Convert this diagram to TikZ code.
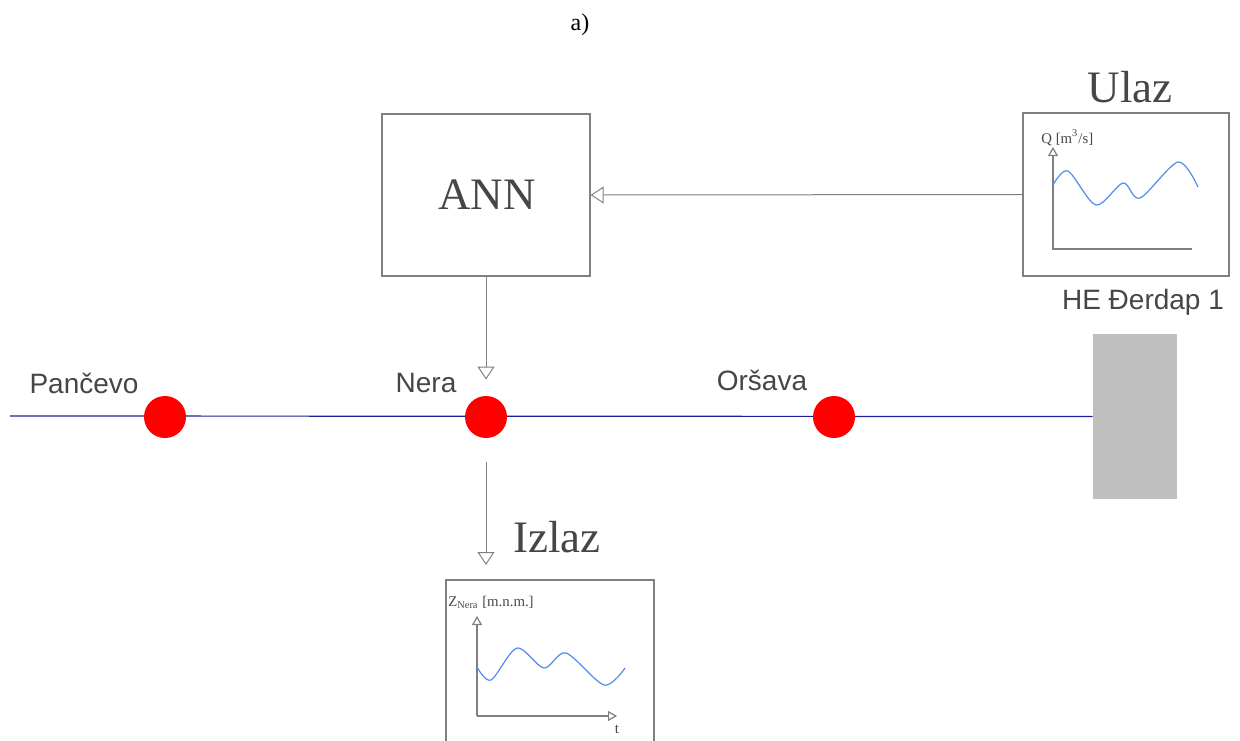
\documentclass[tikz,border=0pt]{standalone}
\usepackage{fontspec}
\setmainfont{Liberation Serif}
\setsansfont{Liberation Sans}
\usetikzlibrary{arrows.meta}
\definecolor{rivercol}{RGB}{30,30,150}
\definecolor{boxgray}{RGB}{128,128,128}
\definecolor{txtgray}{RGB}{70,70,70}
\definecolor{wavecol}{RGB}{80,140,240}
\definecolor{damgray}{RGB}{191,191,191}

\begin{document}
\begin{tikzpicture}[x=0.5pt,y=-0.5pt,
  box/.style={draw=boxgray,line width=0.6pt,inner sep=0pt},
  ar/.style={-{Triangle[open,length=6.5pt,width=8.5pt]},draw=boxgray,line width=0.5pt},
  axis/.style={-{Triangle[open,length=4.5pt,width=5pt]},draw=boxgray,line width=0.6pt},
  wave/.style={draw=wavecol,line width=0.6pt},
  station/.style={circle,fill=red,minimum size=21pt,inner sep=0pt},
  place/.style={font=\sffamily\fontsize{14}{16}\selectfont,text=txtgray,anchor=base,inner sep=0pt},
  title/.style={font=\fontsize{22.5}{26}\selectfont,text=txtgray,inner sep=0pt},
  small/.style={font=\fontsize{7.4}{8}\selectfont,text=txtgray,inner sep=0pt}
]
\useasboundingbox (0,0) rectangle (1240,740);

\node[font=\fontsize{12}{14}\selectfont] (lbl) at (580,25) {a)};

% blocks
\node[box,minimum width=104pt,minimum height=81pt] (ann) at (486,195) {};
\node[title] (anntxt) at (487,195) {ANN};
\node[box,minimum width=103pt,minimum height=81.5pt] (ulaz) at (1126,194.5) {};
\node[title] (ulaztxt) at (1130,87) {Ulaz};
\node[box,minimum width=104pt,minimum height=85pt] (izlaz) at (550,665) {};
\node[title] (izlaztxt) at (557,537) {Izlaz};

% river and stations
\coordinate (src) at (10,416);
\node[fill=damgray,minimum width=42pt,minimum height=82.5pt,inner sep=0pt] (dam) at (1135,416.5) {};
\draw[rivercol,line width=0.6pt] (src) -- (dam.west);
\node[station] (pan) at (165,417) {};
\node[station] (nera) at (486,417) {};
\node[station] (ors) at (834,417) {};
\node[place] (pantxt) at (84,393) {Pančevo};
\node[place] (neratxt) at (426,392) {Nera};
\node[place] (orstxt) at (762,390) {Oršava};
\node[place] (damtxt) at (1143,309) {HE Đerdap 1};

% connectors
\coordinate (out) at (486,565);
\draw[ar] (ulaz.west) -- (ann.east);
\draw[ar,shorten >=8pt] (ann.south) -- (nera.north);
\draw[ar,shorten <=12pt] (nera.south) -- (out);

% input plot
\node[small,anchor=base west] (qlbl) at (1041,143) {Q [m\textsuperscript{3}/s]};
\draw[axis] (1053,250) -- (1053,147);
\draw[boxgray,line width=0.6pt] (1053,249) -- (1192,249);
\draw[wave] plot[smooth] coordinates {(1053,185) (1068,171) (1096,205) (1123,183) (1140,198) (1178,162) (1198,187)};

% output plot
\node[small,anchor=base west] (zlbl) at (448,606) {Z\textsubscript{Nera} [m.n.m.]};
\draw[axis] (477,716) -- (477,616);
\draw[axis] (477,716) -- (617,716);
\node[small] (tlbl) at (617,729) {t};
\draw[wave] plot[smooth] coordinates {(477,667) (491,680) (517,648) (544,668) (566,653) (604,685) (625,668)};
\end{tikzpicture}
\end{document}
